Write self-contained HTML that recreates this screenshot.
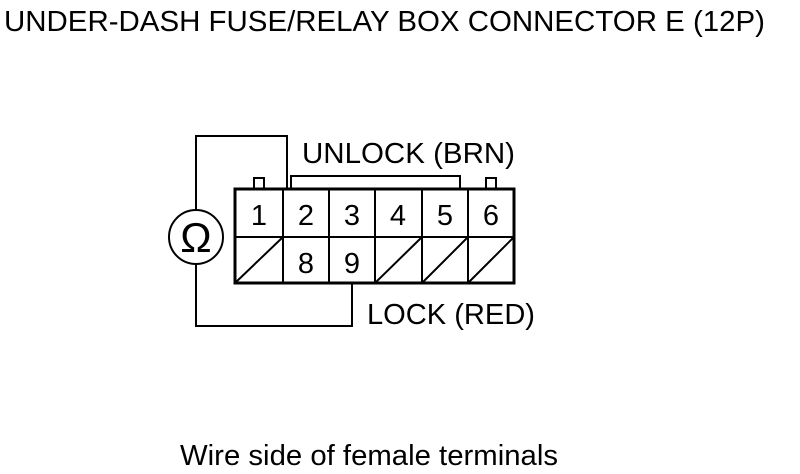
<!DOCTYPE html>
<html><head><style>body{margin:0;background:#fff}svg{display:block}</style></head><body>
<svg width="800" height="474" xmlns="http://www.w3.org/2000/svg" font-family="Liberation Sans, Arial, sans-serif" fill="none" stroke="#000">
<text x="4" y="31" font-size="29" textLength="761" lengthAdjust="spacingAndGlyphs" fill="#000" stroke="none">UNDER-DASH FUSE/RELAY BOX CONNECTOR E (12P)</text>
<text x="302" y="163" font-size="29" textLength="213" lengthAdjust="spacingAndGlyphs" fill="#000" stroke="none">UNLOCK (BRN)</text>
<text x="367" y="324" font-size="29" textLength="168" lengthAdjust="spacingAndGlyphs" fill="#000" stroke="none">LOCK (RED)</text>
<text x="180" y="465" font-size="29" textLength="378" lengthAdjust="spacingAndGlyphs" fill="#000" stroke="none">Wire side of female terminals</text>
<!-- wires -->
<polyline points="287,188 287,136 196,136 196,209" stroke-width="2"/>
<polyline points="196,265 196,326 352,326 352,284" stroke-width="2"/>
<circle cx="196" cy="237" r="27" stroke-width="2"/>
<text x="196" y="252" font-size="42" text-anchor="middle" fill="#000" stroke="none">Ω</text>
<!-- tabs -->
<polyline points="254,188 254,178 264,178 264,188" stroke-width="2"/>
<polyline points="486,188 486,178 496,178 496,188" stroke-width="2"/>
<polyline points="291,188 291,176 460,176 460,188" stroke-width="2"/>
<!-- box -->
<rect x="235" y="189" width="279" height="94" stroke-width="3"/>
<line x1="235" y1="237" x2="514" y2="237" stroke-width="2"/>
<g stroke-width="2">
<line x1="283" y1="189" x2="283" y2="283"/>
<line x1="329" y1="189" x2="329" y2="283"/>
<line x1="375" y1="189" x2="375" y2="283"/>
<line x1="422" y1="189" x2="422" y2="283"/>
<line x1="468" y1="189" x2="468" y2="283"/>
<line x1="235" y1="283" x2="283" y2="237"/>
<line x1="375" y1="283" x2="422" y2="237"/>
<line x1="422" y1="283" x2="468" y2="237"/>
<line x1="468" y1="283" x2="514" y2="237"/>
</g>
<g font-size="29" fill="#000" stroke="none" text-anchor="middle">
<text x="259" y="225">1</text><text x="306" y="225">2</text><text x="352" y="225">3</text>
<text x="398" y="225">4</text><text x="445" y="225">5</text><text x="491" y="225">6</text>
<text x="306" y="273">8</text><text x="352" y="273">9</text>
</g>
</svg>
</body></html>
